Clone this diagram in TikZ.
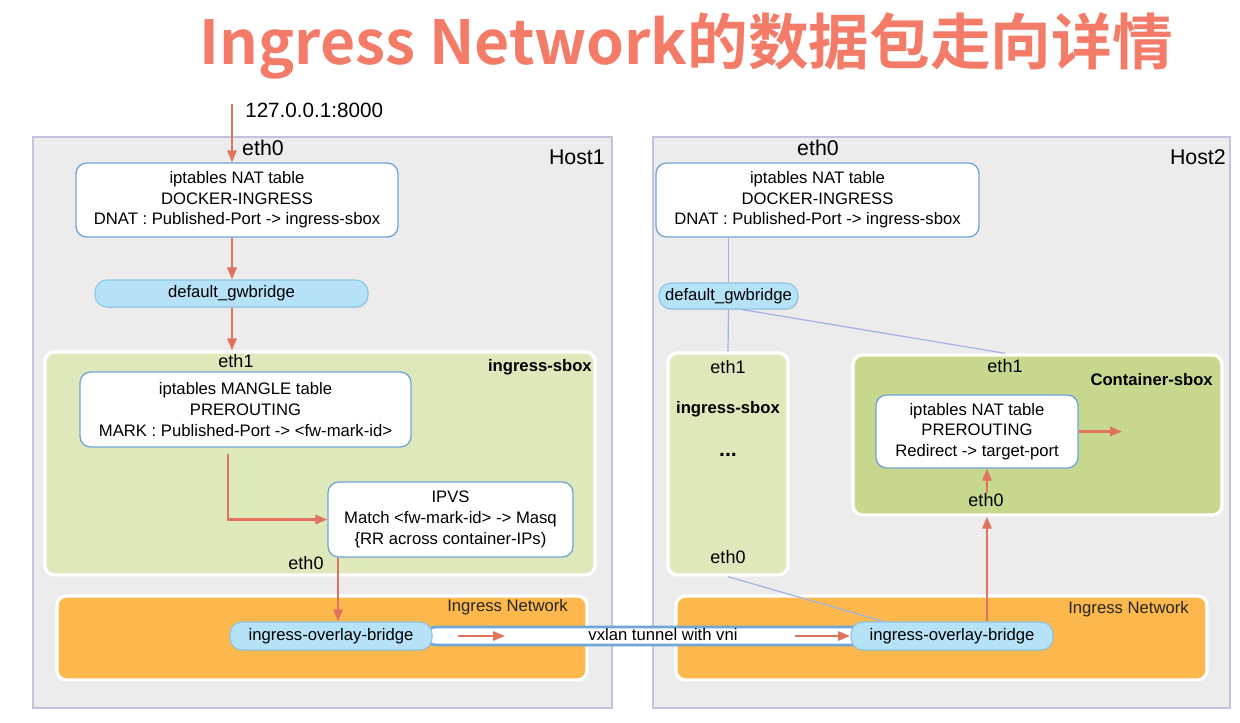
\documentclass[tikz,border=0pt]{standalone}
\usepackage{fontspec}
\setmainfont{Liberation Sans}
\newfontfamily\titlefont{Noto Sans CJK SC Bold}
\usetikzlibrary{fit,arrows.meta,shadows}
\definecolor{coral}{HTML}{E0735E}
\definecolor{titlered}{HTML}{F47B68}
\definecolor{hostfill}{HTML}{ECECEC}
\definecolor{hostline}{HTML}{C3C3DF}
\definecolor{boxline}{HTML}{6FA6D6}
\definecolor{bridgefill}{HTML}{B5E2F6}
\definecolor{bridgeline}{HTML}{8CC4E6}
\definecolor{sboxfill}{HTML}{DFE8BA}
\definecolor{csboxfill}{HTML}{C8D78E}
\definecolor{netfill}{HTML}{FDB84D}
\definecolor{linkblue}{HTML}{9FB2E2}
\begin{document}
\begin{tikzpicture}[x=0.75pt,y=-0.75pt,
  host/.style={draw=hostline, fill=hostfill, line width=1.2pt, inner sep=0pt},
  sbox/.style={draw=white, line width=2.5pt, rounded corners=7pt, inner sep=0pt,
    drop shadow={opacity=0.15, shadow xshift=0.8pt, shadow yshift=-1.2pt}},
  net/.style={draw=white, fill=netfill, line width=2.5pt, rounded corners=7pt, inner sep=0pt,
    drop shadow={opacity=0.12, shadow xshift=0.8pt, shadow yshift=-1.2pt}},
  tbox/.style={draw=boxline, fill=white, line width=1pt, rounded corners=8pt, inner sep=0pt},
  ttxt/.style={inner sep=0pt, align=center, font=\fontsize{12.5}{15.5}\selectfont},
  bridge/.style={draw=bridgeline, fill=bridgefill, line width=0.8pt, rounded corners=9pt,
    inner sep=0pt, drop shadow={opacity=0.15, shadow xshift=0.6pt, shadow yshift=-1pt}},
  btxt/.style={inner sep=0pt, font=\fontsize{12.5}{15}\selectfont},
  tunnel/.style={draw=boxline, fill=white, line width=2pt, rounded corners=8pt, inner sep=0pt},
  lbl/.style={inner sep=0pt, font=\fontsize{13.5}{16}\selectfont},
  biglbl/.style={inner sep=0pt, font=\fontsize{16}{19}\selectfont},
  boldlbl/.style={inner sep=0pt, font=\fontsize{12.5}{15}\selectfont\bfseries},
  netlbl/.style={inner sep=0pt, font=\fontsize{12.5}{15}\selectfont, text=black!85},
  flow/.style={draw=coral, line width=1.6pt, -{Triangle[length=9pt,width=7pt]}},
  link/.style={draw=linkblue, line width=0.9pt}
]
\useasboundingbox[fill=white] (0,0) rectangle (1240,722);

% title
\node[inner sep=0pt, text=titlered, font=\fontsize{45.5}{50}\titlefont] (title) at (686,46)
  {Ingress Network的数据包走向详情};

% hosts
\node[host, fit={(33,137)(612,708)}] (host1) {};
\node[host, fit={(653,137)(1230,708)}] (host2) {};
\node[biglbl, anchor=east] (h1lbl) at (605,157) {Host1};
\node[biglbl, anchor=east] (h2lbl) at (1226,157) {Host2};

% sandboxes
\node[sbox, fill=sboxfill, fit={(45,352)(595,575)}] (sbox1) {};
\node[sbox, fill=sboxfill, fit={(668,353)(788,575)}] (sbox2) {};
\node[sbox, fill=csboxfill, fit={(853,355)(1222,515)}] (csbox) {};
\node[boldlbl, anchor=east] (sb1lbl) at (592,367) {ingress-sbox};
\node[boldlbl] (sb2lbl) at (728,409) {ingress-sbox};
\node[inner sep=0pt, font=\fontsize{16}{18}\selectfont\bfseries] (sb2dots) at (728,455) {...};
\node[boldlbl, anchor=east] (cslbl) at (1213,380) {Container-sbox};

% ingress networks
\node[net, fit={(57,596)(587,680)}] (net1) {};
\node[net, fit={(676,596)(1207,680)}] (net2) {};
\node[netlbl, anchor=east] (n1lbl) at (568,607) {Ingress Network};
\node[netlbl, anchor=east] (n2lbl) at (1189,609) {Ingress Network};

% tunnel
\node[tunnel, fit={(425,627)(862,645)}] (tun) {};
\node[btxt] (tunlbl) at (663,635) {vxlan tunnel with vni};

% bridges
\node[bridge, fit={(95,280)(368,307)}, label={[btxt]center:default\_gwbridge}] (gw1) {};
\node[bridge, fit={(659,283)(798,309)}, label={[btxt]center:default\_gwbridge}] (gw2) {};
\node[bridge, fit={(230,622)(432,650)}, label={[btxt]center:ingress-overlay-bridge}] (iob1) {};
\node[bridge, fit={(851,622)(1053,650)}, label={[btxt]center:ingress-overlay-bridge}] (iob2) {};

% table boxes
\node[tbox, fit={(76,163)(398,237)},
  label={[ttxt]center:iptables NAT table\\DOCKER-INGRESS\\DNAT : Published-Port -> ingress-sbox}] (nat1) {};
\node[tbox, fit={(656,163)(979,237)},
  label={[ttxt]center:iptables NAT table\\DOCKER-INGRESS\\DNAT : Published-Port -> ingress-sbox}] (nat2) {};
\node[tbox, fit={(80,372)(411,447)},
  label={[ttxt]center:iptables MANGLE table\\PREROUTING\\MARK : Published-Port -> <fw-mark-id>}] (mangle) {};
\node[tbox, fit={(328,482)(573,557)},
  label={[ttxt]center:IPVS\\Match <fw-mark-id> -> Masq\\\{RR across container-IPs)}] (ipvs) {};
\node[tbox, fit={(876,395)(1078,468)},
  label={[ttxt]center:iptables NAT table\\PREROUTING\\Redirect -> target-port}] (nat3) {};

% interface labels
\node[inner sep=0pt, font=\fontsize{15.5}{18}\selectfont, anchor=west] (addr) at (245,110) {127.0.0.1:8000};
\node[biglbl] (h1eth0) at (263,148) {eth0};
\node[biglbl] (h2eth0) at (818,148) {eth0};
\node[lbl] (s1eth1) at (236,361) {eth1};
\node[lbl] (s1eth0) at (306,563) {eth0};
\node[lbl] (s2eth1) at (728,367) {eth1};
\node[lbl] (s2eth0) at (728,557) {eth0};
\node[lbl] (c2eth1) at (1005,366) {eth1};
\node[lbl] (c2eth0) at (986,500) {eth0};

% helper coordinates
\coordinate (entry) at (232,104);
\coordinate (xm) at (228,454);
\coordinate (xi) at (338,0);
\coordinate (xc) at (987,0);
\coordinate (t1a) at (458,636);
\coordinate (t1b) at (505,636);
\coordinate (t2a) at (795,636);
\coordinate (t2b) at (850,636);
\coordinate (cout) at (1122,433);

% blue links (host2)
\draw[link] (nat2.south -| gw2) -- (gw2.north);
\draw[link] (gw2.south) -- (sbox2.north);
\draw[link] (gw2.-45) -- (csbox.north -| c2eth1);
\draw[link] (sbox2.south) -- (iob2.168);

% packet flow (host1)
\draw[flow] (entry) -- (nat1.north -| entry);
\draw[flow] (nat1.south -| entry) -- (gw1.north -| entry);
\draw[flow] (gw1.south -| entry) -- (sbox1.north -| entry);
\draw[flow] (xm) |- (ipvs.west);
\draw[flow] (ipvs.south -| xi) -- (iob1.north -| xi);
\draw[flow] (t1a) -- (t1b);
\draw[flow] (t2a) -- (t2b);
% packet flow (host2)
\draw[flow] (iob2.north -| xc) -- (csbox.south -| xc);
\draw[flow] (c2eth0.north -| xc) -- (nat3.south -| xc);
\draw[flow] (nat3.east) -- (nat3.east -| cout);
\end{tikzpicture}
\end{document}
